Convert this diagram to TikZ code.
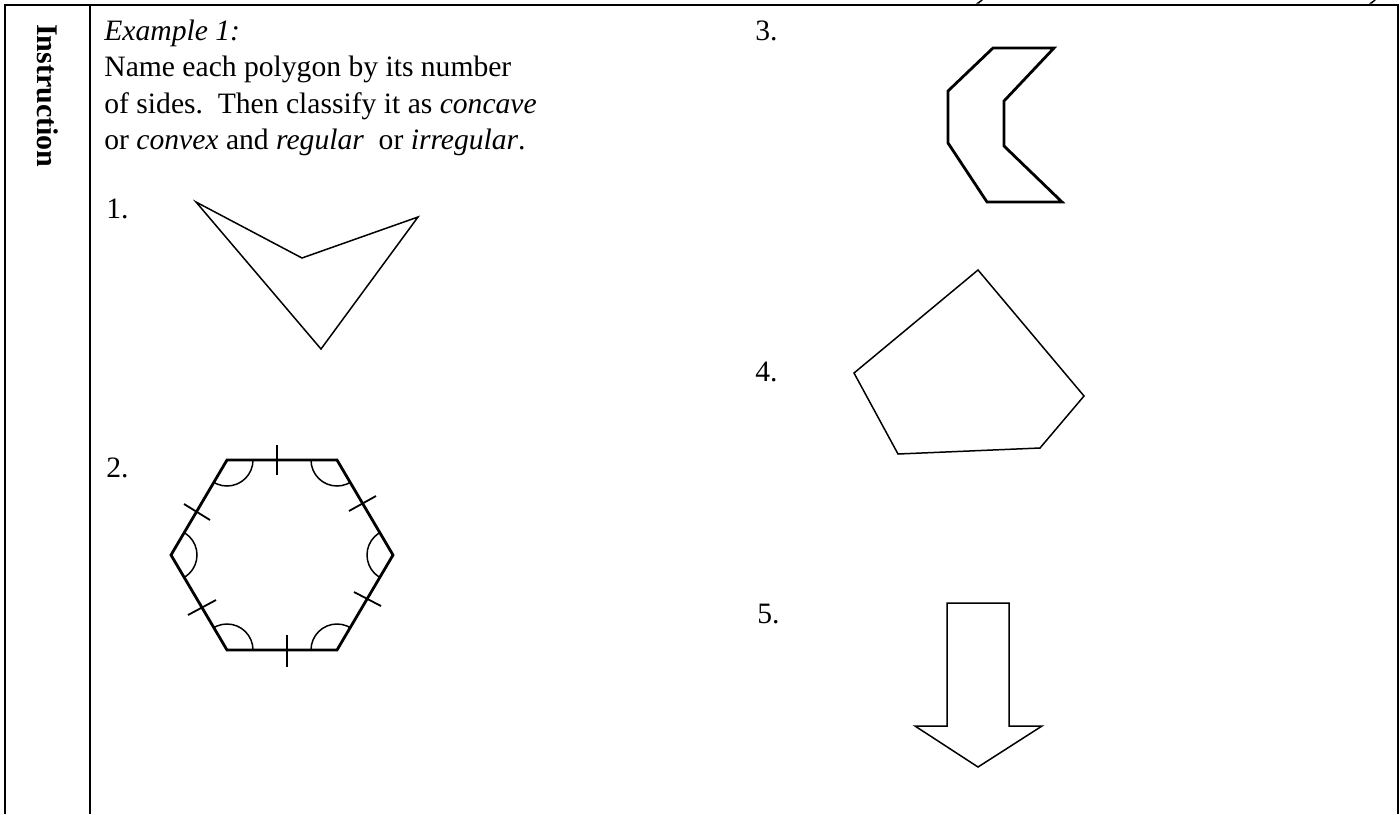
\documentclass[tikz,border=0pt]{standalone}
\usepackage{fontspec}
\setmainfont{Liberation Serif}
\begin{document}
\begin{tikzpicture}[x=0.5pt,y=-0.5pt,
  txt/.style={inner sep=0pt, anchor=base west, font=\fontsize{14.8}{17}\selectfont},
  frame/.style={line width=1pt},
  thinpoly/.style={line width=0.75pt, line join=miter},
  thickpoly/.style={line width=1.4pt, line join=miter},
  tickmark/.style={line width=0.9pt},
  anglearc/.style={line width=0.75pt}]
\useasboundingbox (0,0) rectangle (1400,814);
% table frame
\coordinate (bl) at (5,814);
\coordinate (tl) at (5,5);
\coordinate (tr) at (1398,5);
\coordinate (br) at (1398,814);
\coordinate (dt) at (90,5);
\coordinate (db) at (90,814);
\draw[frame] (bl) -- (tl) -- (tr) -- (br);
\draw[frame] (dt) -- (db);
% cut-off descenders above the frame
\fill (976,3.5) -- (981,0) -- (983,0) -- (979,3.5) -- cycle;
\fill (1369,3.5) -- (1374,0) -- (1376,0) -- (1372,3.5) -- cycle;
% header
\node[rotate=-90, inner sep=0pt, font=\bfseries\fontsize{15}{16}\selectfont] (instr) at (48,96) {Instruction};
% instructions
\node[txt] (ex) at (104,40) {\itshape Example 1:};
\node[txt] (l1) at (104,76.5) {Name each polygon by its number};
\node[txt] (l2) at (104,113) {of sides.\hspace{0.5em}Then classify it as \textit{concave}};
\node[txt] (l3) at (104,149.5) {or \textit{convex} and \textit{regular}\hspace{0.5em}or \textit{irregular}.};
% labels
\node[txt] (n1) at (106,218) {1.};
\node[txt] (n2) at (106,477) {2.};
\node[txt] (n3) at (755,40) {3.};
\node[txt] (n4) at (755,381) {4.};
\node[txt] (n5) at (757,623) {5.};
% 1. concave quadrilateral
\draw[thinpoly] (196,202) -- (302,258) -- (418,217) -- (321,349) -- cycle;
% 2. regular hexagon
\coordinate (h1) at (227,460);
\coordinate (h2) at (337,460);
\coordinate (h3) at (393,555);
\coordinate (h4) at (337,650);
\coordinate (h5) at (227,650);
\coordinate (h6) at (171,555);
\begin{scope}
  \clip (h1) -- (h2) -- (h3) -- (h4) -- (h5) -- (h6) -- cycle;
  \foreach \v in {h1,h2,h3,h4,h5,h6}
    \draw[anglearc] (\v) circle[radius=26];
\end{scope}
\draw[thickpoly] (h1) -- (h2) -- (h3) -- (h4) -- (h5) -- (h6) -- cycle;
\draw[tickmark] (277,445) -- (277,475);
\draw[tickmark] (287,635) -- (287,667);
\draw[tickmark] (184,504) -- (210,520);
\draw[tickmark] (349,511) -- (376,496);
\draw[tickmark] (188,615) -- (216,600);
\draw[tickmark] (354,592) -- (381,606);
% 3. concave octagon
\draw[thickpoly] (993,48) -- (1054,48) -- (1004,101) -- (1004,146) -- (1062,202) -- (987,202) -- (948,143) -- (948,91) -- cycle;
% 4. convex pentagon
\draw[thinpoly] (978,270) -- (1084,396) -- (1040,448) -- (898,454) -- (854,373) -- cycle;
% 5. arrow
\draw[thinpoly] (947,603) -- (1009,603) -- (1009,726) -- (1042,726) -- (978,767) -- (915,726) -- (947,726) -- cycle;
\end{tikzpicture}
\end{document}
